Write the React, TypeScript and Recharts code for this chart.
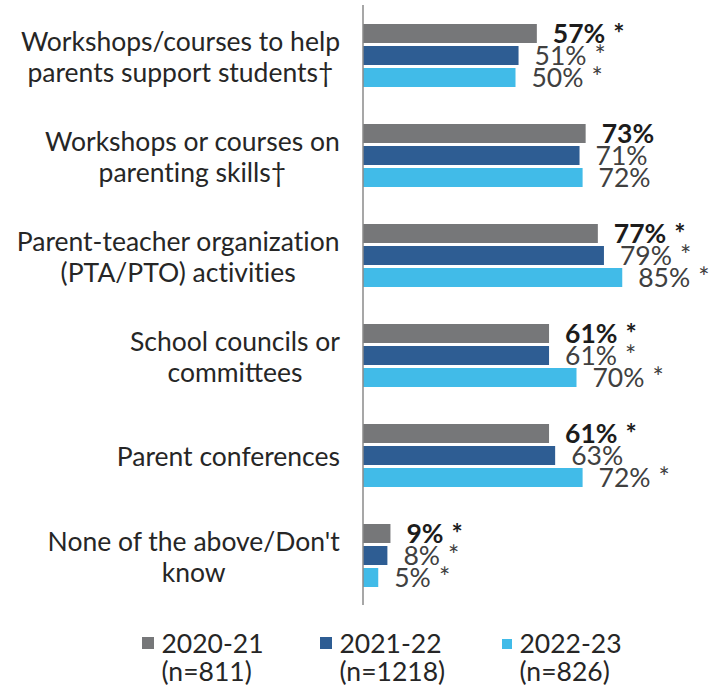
import React from "react";
import { BarChart, Bar, XAxis, YAxis, Legend, LabelList } from "recharts";

const categories = [
  "Workshops/courses to help\nparents support students†",
  "Workshops or courses on\nparenting skills†",
  "Parent-teacher organization\n(PTA/PTO) activities",
  "School councils or\ncommittees",
  "Parent conferences",
  "None of the above/Don't\nknow",
];
const values2021 = [57, 73, 77, 61, 61, 9];
const values2122 = [51, 71, 79, 61, 63, 8];
const values2223 = [50, 72, 85, 70, 72, 5];
const sig2021 = [true, false, true, true, true, true];
const sig2122 = [true, false, true, true, false, true];
const sig2223 = [true, false, true, true, true, true];

const seriesNames = ["2020-21", "2021-22", "2022-23"];
const seriesN = ["(n=811)", "(n=1218)", "(n=826)"];
const seriesKeys = ["y2021", "y2122", "y2223"];
const seriesColors = ["#767779", "#2e5d93", "#41bbe8"];
const seriesSig = [sig2021, sig2122, sig2223];

const data = categories.map((c, i) => ({
  category: c,
  y2021: values2021[i],
  y2122: values2122[i],
  y2223: values2223[i],
}));

const FONT = "Lato, 'Noto Sans', sans-serif";
const FS = 26.5;

let measureCtx: CanvasRenderingContext2D | null = null;
function measure(text: string): number {
  if (!measureCtx) {
    const c = document.createElement("canvas");
    measureCtx = c.getContext("2d");
  }
  if (!measureCtx) return text.length * FS * 0.5;
  measureCtx.font = `${FS}px Lato`;
  return measureCtx.measureText(text).width;
}

// break the Lato "ti" ligature so glyphs render separately
const noLigature = (s: string) => s.replace(/ti/g, "t\u200Ci");

const CategoryTick = (props: any) => {
  const { x, y, payload } = props;
  const lines = String(payload.value).split("\n");
  const maxW = Math.max(...lines.map(measure));
  const cx = x - maxW / 2;
  const lh = 31;
  const first = y + 11 - ((lines.length - 1) * lh) / 2;
  return (
    <g>
      {lines.map((l, i) => (
        <text
          key={i}
          x={cx}
          y={first + i * lh}
          textAnchor="middle"
          fontFamily={FONT}
          fontSize={FS}
          fill="#262626"
        >
          {noLigature(l)}
        </text>
      ))}
    </g>
  );
};

const makeLabel = (si: number) => (props: any) => {
  const { x, y, width, height, value, index } = props;
  const sig = seriesSig[si][index];
  return (
    <text
      x={x + width + 16}
      y={y + height / 2 + 9.5}
      fontFamily={FONT}
      fontSize={FS}
      fontWeight={si === 0 ? 700 : 400}
      fill={si === 0 ? "#1c1c1c" : "#404040"}
    >
      {`${value}%`}
      {sig ? <tspan dx={8}>*</tspan> : null}
    </text>
  );
};

const legendLefts = [142, 320, 502];
const legendSquare = [12, 12, 10];

const LegendContent = () => (
  <div style={{ position: "relative", width: 722, height: 56, fontFamily: FONT }}>
    {seriesNames.map((name, i) => (
      <div key={name} style={{ position: "absolute", left: legendLefts[i], top: 0 }}>
        <div
          style={{
            position: "absolute",
            left: 0,
            top: 20 - legendSquare[i],
            width: legendSquare[i],
            height: legendSquare[i],
            background: seriesColors[i],
          }}
        />
        <div
          style={{
            position: "absolute",
            left: i === 2 ? 17.5 : 19.5,
            top: 0,
            fontSize: FS,
            lineHeight: "28px",
            color: "#262626",
            whiteSpace: "nowrap",
          }}
        >
          <div>{name}</div>
          <div>{seriesN[i]}</div>
        </div>
      </div>
    ))}
  </div>
);

export default function App() {
  return (
    <div style={{ position: "absolute", left: 0, top: 0, width: 722, height: 685, background: "#fff" }}>
      <BarChart
        width={722}
        height={685}
        data={data}
        layout="vertical"
        margin={{ top: 5, right: 54, bottom: 80, left: 0 }}
        barSize={19}
        barGap={3}
      >
        <XAxis type="number" domain={[0, 100]} hide />
        <YAxis
          type="category"
          dataKey="category"
          width={363}
          axisLine={{ stroke: "#8a8a8a", strokeWidth: 1.5 }}
          tickLine={false}
          tickSize={0}
          tickMargin={23}
          interval={0}
          tick={<CategoryTick />}
        />
        <Legend
          layout="vertical"
          align="center"
          verticalAlign="middle"
          content={<LegendContent />}
          wrapperStyle={{ position: "absolute", left: 0, top: 629, width: 722, height: 56 }}
        />
        {seriesKeys.map((k, si) => (
          <Bar key={k} dataKey={k} name={seriesNames[si]} fill={seriesColors[si]} isAnimationActive={false}>
            <LabelList dataKey={k} content={makeLabel(si)} />
          </Bar>
        ))}
      </BarChart>
    </div>
  );
}
